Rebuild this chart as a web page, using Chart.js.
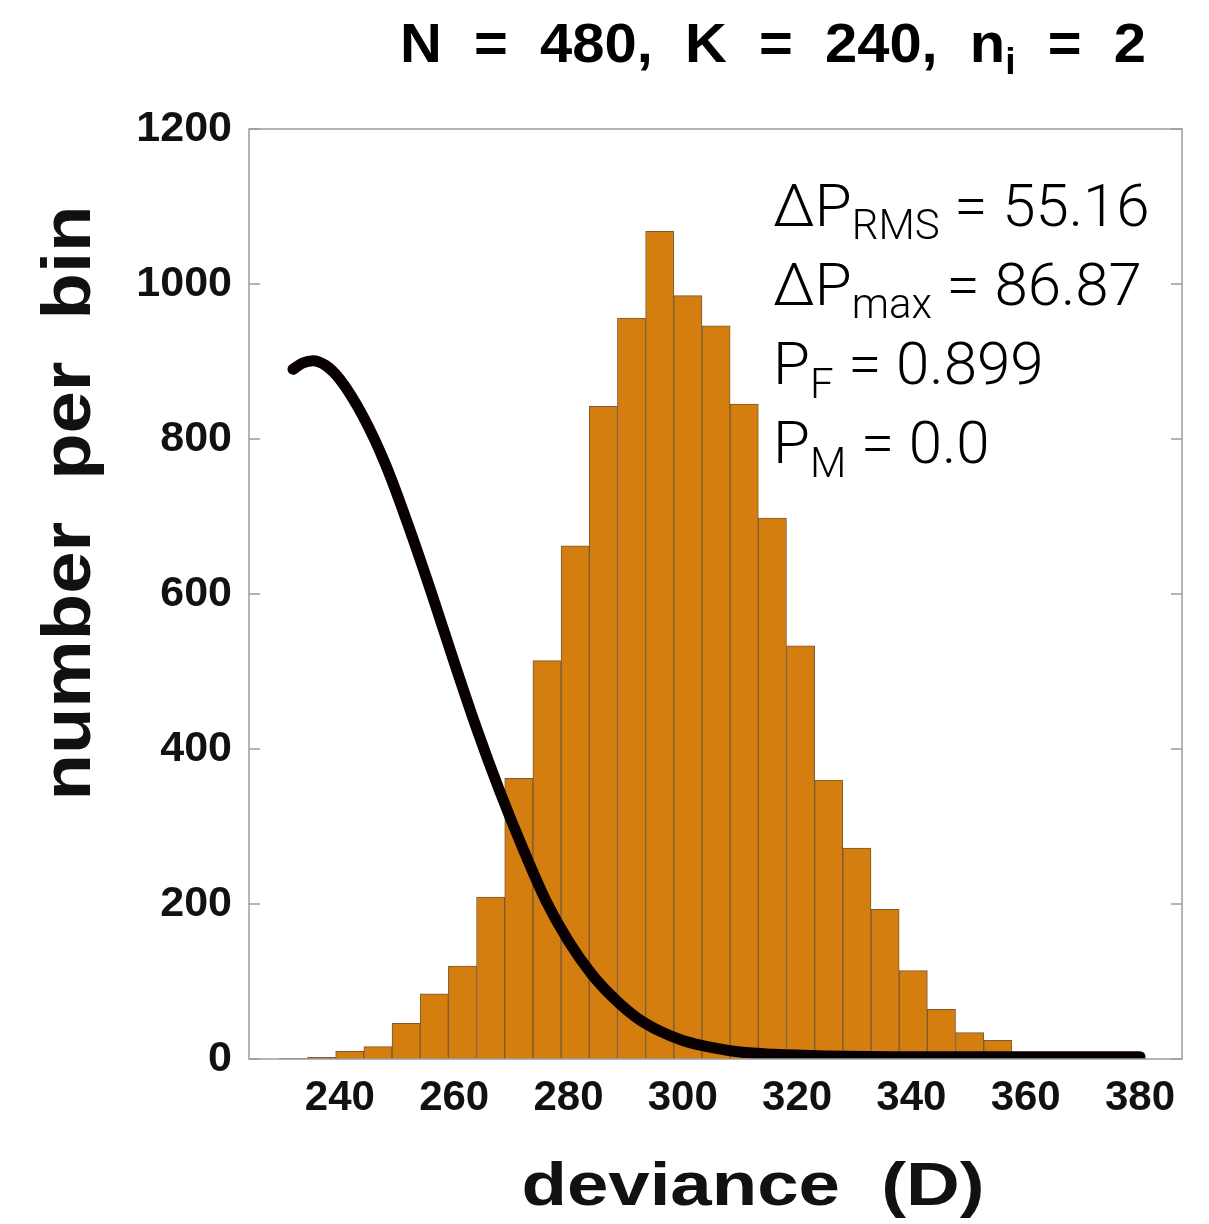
<!DOCTYPE html>
<html>
<head>
<meta charset="utf-8">
<script src="https://cdn.jsdelivr.net/npm/chart.js@4.4.1/dist/chart.umd.min.js"></script>
<style>
  html, body { margin: 0; padding: 0; background: #fff; }
  #wrap { width: 1209px; height: 1224px; }
</style>
</head>
<body>
<div id="wrap"><canvas id="chart" width="1209" height="1224"></canvas></div>
<script>
// histogram bins (centre of each bin) and counts
const binCenters = [231.87, 236.80, 241.73, 246.66, 251.59, 256.52, 261.45, 266.38, 271.31, 276.24,
                    281.17, 286.10, 291.03, 295.96, 300.89, 305.82, 310.75, 315.68, 320.61, 325.54,
                    330.47, 335.40, 340.33, 345.26, 350.19, 355.12, 360.05, 364.98];
const binCounts = [1, 2, 10, 16, 46, 84, 120, 209, 362, 514,
                   662, 842, 956, 1068, 985, 946, 845, 698, 533, 360,
                   272, 193, 114, 64, 34, 24, 2, 1];

// black curve
const curveX = [231.8, 233.5, 235.3, 237.5, 240, 244, 248, 252, 256, 260,
                264, 268, 272, 276, 280, 284, 288, 292, 296, 300,
                305, 310, 316, 325, 340, 360, 380];
const curveY = [890, 898, 901, 895, 877, 830, 767, 688, 602, 512,
                425, 345, 272, 205, 152, 110, 78, 53, 36, 24,
                15, 9, 6, 4, 3, 3, 3];

const xTickValues = [240, 260, 280, 300, 320, 340, 360, 380];
const yTickValues = [0, 200, 400, 600, 800, 1000, 1200];

const titleRuns = [
    { text: 'N  =  480,  K  =  240,  n', size: 56, dy: 0 },
    { text: 'i', size: 36, dy: 12 },
    { text: '  =  2', size: 56, dy: 0 }
];
const statLines = [
    [{ text: 'ΔP', size: 60, dy: 0 }, { text: 'RMS', size: 42, dy: 13 }, { text: ' = 55.16', size: 60, dy: 0 }],
    [{ text: 'ΔP', size: 60, dy: 0 }, { text: 'max', size: 42, dy: 13 }, { text: ' = 86.87', size: 60, dy: 0 }],
    [{ text: 'P', size: 60, dy: 0 }, { text: 'F', size: 42, dy: 14 }, { text: ' = 0.899', size: 60, dy: 0 }],
    [{ text: 'P', size: 60, dy: 0 }, { text: 'M', size: 42, dy: 14 }, { text: ' = 0.0', size: 60, dy: 0 }]
];
const xLabel = 'deviance  (D)';
const yLabel = 'number  per  bin';

// draw a row of text pieces (for subscripts); optional stretch to a given width
function drawRuns(ctx, runs, x, y, family, weight, align, fitWidth) {
    let total = 0;
    runs.forEach(r => {
        ctx.font = `${weight} ${r.size}px ${family}`;
        r.w = ctx.measureText(r.text).width;
        total += r.w;
    });
    const sx = fitWidth ? fitWidth / total : 1;
    ctx.save();
    ctx.translate(x, y);
    ctx.scale(sx, 1);
    let cx = align === 'right' ? -total : (align === 'center' ? -total / 2 : 0);
    ctx.textAlign = 'left';
    ctx.textBaseline = 'alphabetic';
    runs.forEach(r => {
        ctx.font = `${weight} ${r.size}px ${family}`;
        ctx.fillText(r.text, cx, r.dy);
        cx += r.w;
    });
    ctx.restore();
}

const framePlugin = {
    id: 'frame',
    afterDatasetsDraw(chart) {
        const { ctx, chartArea: a, scales: { y } } = chart;
        ctx.save();
        ctx.strokeStyle = '#9c9c9c';
        ctx.lineWidth = 1.5;
        ctx.strokeRect(a.left, a.top, a.right - a.left, a.bottom - a.top);
        ctx.beginPath();
        yTickValues.forEach(v => {
            const py = y.getPixelForValue(v);
            ctx.moveTo(a.left, py); ctx.lineTo(a.left + 11, py);
            ctx.moveTo(a.right - 11, py); ctx.lineTo(a.right, py);
        });
        ctx.stroke();
        ctx.restore();
    }
};

const textPlugin = {
    id: 'texts',
    afterDraw(chart) {
        const ctx = chart.ctx;
        ctx.save();
        ctx.fillStyle = '#000';
        // title
        drawRuns(ctx, titleRuns, 1146, 62, '"Liberation Sans Narrow", sans-serif', 'bold', 'right', 746);
        // stats box
        const baselines = [226, 305, 384, 463];
        statLines.forEach((line, i) => {
            drawRuns(ctx, line, 773, baselines[i], 'Roboto, sans-serif', '300', 'left');
        });
        ctx.fillStyle = '#111';
        // x axis title
        drawRuns(ctx, [{ text: xLabel, size: 62, dy: 0 }], 753, 1205, '"Liberation Sans", Arial, sans-serif', 'bold', 'center', 463);
        // y axis title (rotated)
        ctx.save();
        ctx.translate(90, 503);
        ctx.rotate(-Math.PI / 2);
        drawRuns(ctx, [{ text: yLabel, size: 68, dy: 0 }], 0, 0, '"Liberation Sans", Arial, sans-serif', 'bold', 'center', 595);
        ctx.restore();
        ctx.restore();
    }
};

new Chart(document.getElementById('chart'), {
    type: 'bar',
    data: {
        datasets: [
            {
                type: 'line',
                data: curveX.map((x, i) => ({ x: x, y: curveY[i] })),
                borderColor: '#080000',
                borderWidth: 11,
                borderCapStyle: 'round',
                borderJoinStyle: 'round',
                pointRadius: 0,
                cubicInterpolationMode: 'monotone',
                fill: false,
                order: 0
            },
            {
                type: 'bar',
                data: binCenters.map((x, i) => ({ x: x, y: binCounts[i] })),
                backgroundColor: '#d37e0e',
                borderColor: '#7a5a32',
                borderWidth: 1,
                barPercentage: 1,
                categoryPercentage: 1,
                order: 1
            }
        ]
    },
    options: {
        responsive: false,
        animation: false,
        devicePixelRatio: 1,
        layout: { padding: { left: 0, top: 129, right: 27, bottom: 0 } },
        plugins: {
            legend: { display: false },
            tooltip: { enabled: false },
            title: { display: false }
        },
        scales: {
            x: {
                type: 'linear',
                offset: false,
                min: 224.1,
                max: 387.35,
                afterFit: (s) => { s.height = 165; },
                afterBuildTicks: (s) => { s.ticks = xTickValues.map(v => ({ value: v })); },
                grid: { display: false, drawTicks: false },
                border: { display: false },
                ticks: {
                    padding: 14,
                    maxRotation: 0,
                    color: '#111',
                    callback: (v) => String(v),
                    font: { family: '"Liberation Sans", Arial, sans-serif', size: 42, weight: 'bold' }
                }
            },
            y: {
                min: 0,
                max: 1200,
                afterFit: (s) => { s.width = 249; },
                afterBuildTicks: (s) => { s.ticks = yTickValues.map(v => ({ value: v })); },
                grid: { display: false, drawTicks: false },
                border: { display: false },
                ticks: {
                    padding: 17,
                    color: '#111',
                    callback: (v) => String(v),
                    font: { family: '"Liberation Sans", Arial, sans-serif', size: 43, weight: 'bold' }
                }
            }
        }
    },
    plugins: [framePlugin, textPlugin]
});
</script>
</body>
</html>
